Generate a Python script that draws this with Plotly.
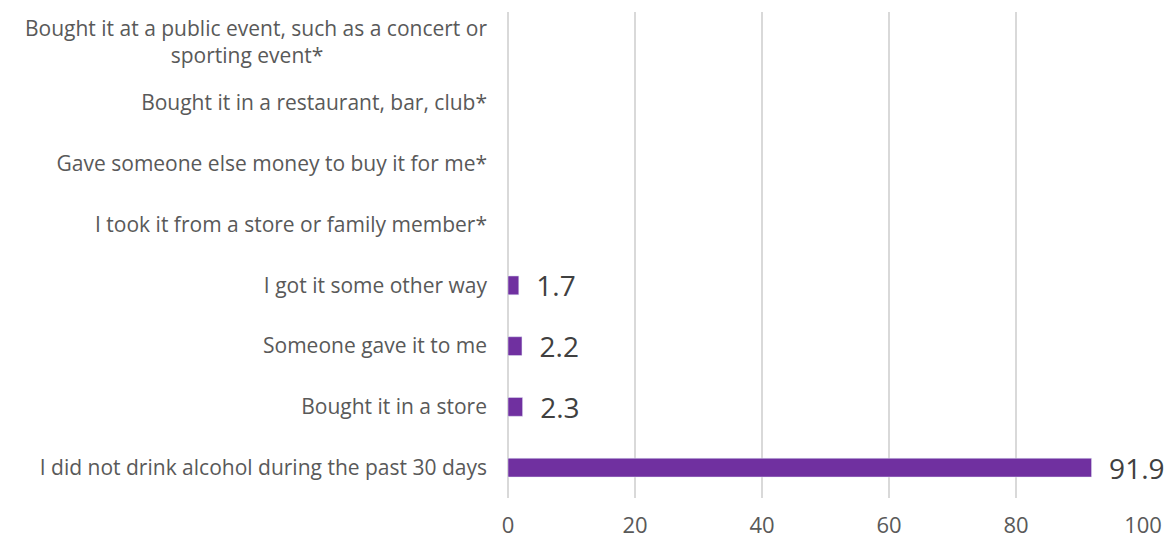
import plotly.graph_objects as go

# bottom to top, as drawn
categories = [
    "I did not drink alcohol during the past 30 days",
    "Bought it in a store",
    "Someone gave it to me",
    "I got it some other way",
    "I took it from a store or family member*",
    "Gave someone else money to buy it for me*",
    "Bought it in a restaurant, bar, club*",
    "Bought it at a public event, such as a concert or<br>sporting event*" + "\u00a0" * 30,
]
values = [91.9, 2.3, 2.2, 1.7, None, None, None, None]
labels = ["  " + str(v) if v is not None else "" for v in values]

fig = go.Figure(go.Bar(
    x=values, y=categories, orientation="h",
    marker_color="#7030A0", width=0.31,
    text=labels, textposition="outside", constraintext="none",
    cliponaxis=False,
    textfont=dict(size=28, color="#404040", family="Open Sans"),
))

fig.update_layout(
    width=1170, height=540,
    margin=dict(l=508, r=27, t=12, b=42),
    plot_bgcolor="white", paper_bgcolor="white",
    font=dict(family="Open Sans", size=21, color="#595959"),
    showlegend=False,
)
fig.update_xaxes(range=[0, 100], dtick=20, showgrid=True, gridcolor="#d9d9d9",
                 gridwidth=2, zeroline=True, zerolinecolor="#d9d9d9", zerolinewidth=2,
                 showline=False, tickfont=dict(size=22), ticklabelstandoff=12,
                 automargin=False)
fig.update_yaxes(categoryorder="array", categoryarray=categories, range=[-0.5, 7.5],
                 showgrid=False, showline=False, ticklabelstandoff=20, automargin=False)

# drop the default page margin so the chart sits at the window corner
fig.write_html("out.html", config={"displayModeBar": False},
               post_script="document.body.style.margin='0';")
